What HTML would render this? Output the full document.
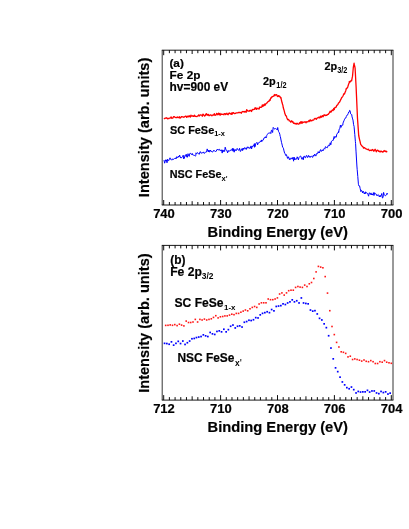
<!DOCTYPE html>
<html><head><meta charset="utf-8"><title>Fe 2p XPS</title>
<style>html,body{margin:0;padding:0;background:#fff}svg{display:block}</style></head>
<body>
<svg width="409" height="529" viewBox="0 0 409 529">
<rect width="409" height="529" fill="#fff"/>
<path d="M161.80 50.20H393.40M161.80 205.00H393.40" stroke="#000" stroke-width="0.9" fill="none"/>
<path d="M162.20 50.20V205.00" stroke="#000" stroke-width="0.8" fill="none"/>
<path d="M393.00 50.20V205.00" stroke="#000" stroke-width="0.8" fill="none"/>
<path d="M163.70 50.20v5.0M163.70 205.00v-5.0M169.39 50.20v3.0M169.39 205.00v-3.0M175.08 50.20v3.0M175.08 205.00v-3.0M180.77 50.20v3.0M180.77 205.00v-3.0M186.46 50.20v3.0M186.46 205.00v-3.0M192.15 50.20v3.8M192.15 205.00v-3.8M197.84 50.20v3.0M197.84 205.00v-3.0M203.53 50.20v3.0M203.53 205.00v-3.0M209.22 50.20v3.0M209.22 205.00v-3.0M214.91 50.20v3.0M214.91 205.00v-3.0M220.60 50.20v5.0M220.60 205.00v-5.0M226.29 50.20v3.0M226.29 205.00v-3.0M231.98 50.20v3.0M231.98 205.00v-3.0M237.67 50.20v3.0M237.67 205.00v-3.0M243.36 50.20v3.0M243.36 205.00v-3.0M249.05 50.20v3.8M249.05 205.00v-3.8M254.74 50.20v3.0M254.74 205.00v-3.0M260.43 50.20v3.0M260.43 205.00v-3.0M266.12 50.20v3.0M266.12 205.00v-3.0M271.81 50.20v3.0M271.81 205.00v-3.0M277.50 50.20v5.0M277.50 205.00v-5.0M283.19 50.20v3.0M283.19 205.00v-3.0M288.88 50.20v3.0M288.88 205.00v-3.0M294.57 50.20v3.0M294.57 205.00v-3.0M300.26 50.20v3.0M300.26 205.00v-3.0M305.95 50.20v3.8M305.95 205.00v-3.8M311.64 50.20v3.0M311.64 205.00v-3.0M317.33 50.20v3.0M317.33 205.00v-3.0M323.02 50.20v3.0M323.02 205.00v-3.0M328.71 50.20v3.0M328.71 205.00v-3.0M334.40 50.20v5.0M334.40 205.00v-5.0M340.09 50.20v3.0M340.09 205.00v-3.0M345.78 50.20v3.0M345.78 205.00v-3.0M351.47 50.20v3.0M351.47 205.00v-3.0M357.16 50.20v3.0M357.16 205.00v-3.0M362.85 50.20v3.8M362.85 205.00v-3.8M368.54 50.20v3.0M368.54 205.00v-3.0M374.23 50.20v3.0M374.23 205.00v-3.0M379.92 50.20v3.0M379.92 205.00v-3.0M385.61 50.20v3.0M385.61 205.00v-3.0M391.30 50.20v5.0M391.30 205.00v-5.0" stroke="#000" stroke-width="0.95" fill="none"/>
<path d="M161.80 245.40H393.40M161.80 400.10H393.40" stroke="#000" stroke-width="0.9" fill="none"/>
<path d="M162.20 245.40V400.10" stroke="#000" stroke-width="0.8" fill="none"/>
<path d="M393.00 245.40V400.10" stroke="#000" stroke-width="0.8" fill="none"/>
<path d="M163.70 245.40v5.0M163.70 400.10v-5.0M169.39 245.40v3.0M169.39 400.10v-3.0M175.08 245.40v3.0M175.08 400.10v-3.0M180.77 245.40v3.0M180.77 400.10v-3.0M186.46 245.40v3.0M186.46 400.10v-3.0M192.15 245.40v3.8M192.15 400.10v-3.8M197.84 245.40v3.0M197.84 400.10v-3.0M203.53 245.40v3.0M203.53 400.10v-3.0M209.22 245.40v3.0M209.22 400.10v-3.0M214.91 245.40v3.0M214.91 400.10v-3.0M220.60 245.40v5.0M220.60 400.10v-5.0M226.29 245.40v3.0M226.29 400.10v-3.0M231.98 245.40v3.0M231.98 400.10v-3.0M237.67 245.40v3.0M237.67 400.10v-3.0M243.36 245.40v3.0M243.36 400.10v-3.0M249.05 245.40v3.8M249.05 400.10v-3.8M254.74 245.40v3.0M254.74 400.10v-3.0M260.43 245.40v3.0M260.43 400.10v-3.0M266.12 245.40v3.0M266.12 400.10v-3.0M271.81 245.40v3.0M271.81 400.10v-3.0M277.50 245.40v5.0M277.50 400.10v-5.0M283.19 245.40v3.0M283.19 400.10v-3.0M288.88 245.40v3.0M288.88 400.10v-3.0M294.57 245.40v3.0M294.57 400.10v-3.0M300.26 245.40v3.0M300.26 400.10v-3.0M305.95 245.40v3.8M305.95 400.10v-3.8M311.64 245.40v3.0M311.64 400.10v-3.0M317.33 245.40v3.0M317.33 400.10v-3.0M323.02 245.40v3.0M323.02 400.10v-3.0M328.71 245.40v3.0M328.71 400.10v-3.0M334.40 245.40v5.0M334.40 400.10v-5.0M340.09 245.40v3.0M340.09 400.10v-3.0M345.78 245.40v3.0M345.78 400.10v-3.0M351.47 245.40v3.0M351.47 400.10v-3.0M357.16 245.40v3.0M357.16 400.10v-3.0M362.85 245.40v3.8M362.85 400.10v-3.8M368.54 245.40v3.0M368.54 400.10v-3.0M374.23 245.40v3.0M374.23 400.10v-3.0M379.92 245.40v3.0M379.92 400.10v-3.0M385.61 245.40v3.0M385.61 400.10v-3.0M391.30 245.40v5.0M391.30 400.10v-5.0" stroke="#000" stroke-width="0.95" fill="none"/>
<polyline points="163.9,118.2 164.5,118.7 165.1,118.2 165.7,118.1 166.3,117.7 166.9,118.1 167.5,118.8 168.1,118.3 168.7,118.7 169.3,118.1 169.9,118.2 170.5,118.0 171.1,116.9 171.7,118.3 172.3,118.1 172.9,118.0 173.5,116.7 174.1,116.6 174.7,117.1 175.3,117.3 175.9,117.7 176.5,117.4 177.1,117.7 177.7,117.0 178.3,117.5 178.9,117.5 179.5,116.8 180.0,118.2 180.1,117.5 180.7,117.8 181.3,116.7 181.9,116.6 182.5,116.8 183.1,116.9 183.7,117.3 184.3,117.0 184.9,116.5 185.5,116.2 186.1,116.4 186.7,117.4 187.3,116.1 187.9,116.7 188.5,116.8 189.1,115.6 189.7,116.5 190.3,117.1 190.9,115.1 191.5,116.1 192.1,116.2 192.7,115.7 193.3,116.4 193.9,116.1 194.5,115.2 195.1,116.5 195.7,116.3 196.3,116.5 196.9,116.7 197.5,116.0 198.1,115.8 198.7,114.9 199.3,116.0 199.9,115.2 200.0,115.3 200.5,114.8 201.1,115.0 201.7,115.2 202.3,116.2 202.9,114.2 203.5,114.5 204.1,115.5 204.7,116.1 205.3,115.6 205.9,114.1 206.5,113.7 207.1,115.3 207.7,114.6 208.3,114.4 208.9,115.6 209.5,115.6 210.1,115.0 210.7,115.0 211.3,115.1 211.9,115.7 212.5,115.1 213.1,115.0 213.7,115.0 214.3,113.7 214.9,115.3 215.5,115.1 216.1,114.8 216.7,113.3 217.3,114.0 217.9,114.8 218.5,113.2 219.1,114.2 219.7,114.8 220.0,113.4 220.3,115.1 220.9,114.5 221.5,114.0 222.1,114.3 222.7,114.4 223.3,114.1 223.9,114.7 224.5,113.6 225.1,113.7 225.7,114.5 226.3,113.9 226.9,113.3 227.5,114.4 228.1,114.7 228.7,113.5 229.3,112.9 229.9,113.6 230.0,113.6 230.5,113.5 231.1,114.4 231.7,112.9 232.3,114.1 232.9,112.6 233.5,112.7 234.1,113.5 234.7,113.7 235.3,113.4 235.9,113.1 236.5,112.9 237.1,112.8 237.7,112.9 238.3,112.4 238.9,112.6 239.5,112.7 239.8,112.3 240.1,112.7 240.7,112.5 241.3,113.2 241.9,112.1 242.5,111.6 243.1,111.5 243.7,111.7 244.3,112.1 244.9,111.3 245.5,111.6 246.1,112.3 246.7,109.7 247.3,110.4 247.9,111.1 248.5,111.1 249.1,110.9 249.6,110.5 249.7,111.0 250.3,110.7 250.9,110.1 251.5,111.5 252.1,110.2 252.7,109.5 253.3,109.6 253.9,109.4 254.5,109.3 255.1,107.7 255.7,108.7 256.3,109.4 256.9,108.0 257.5,108.5 258.1,108.9 258.7,108.7 259.3,108.8 259.4,107.1 259.9,107.5 260.5,107.2 261.1,107.3 261.7,107.2 262.3,104.9 262.9,106.4 263.5,104.8 264.1,105.5 264.7,104.0 265.2,104.6 265.3,105.0 265.9,103.7 266.5,103.3 267.1,102.9 267.7,102.0 268.3,101.3 268.9,101.4 269.1,101.0 269.5,99.9 270.1,100.4 270.7,97.9 271.3,98.0 271.9,96.7 272.1,96.7 272.5,96.8 273.1,96.3 273.7,96.2 274.3,94.8 274.9,94.5 275.0,95.7 275.5,94.8 276.1,94.9 276.7,94.7 277.3,96.3 277.9,96.1 278.0,96.5 278.5,95.6 279.1,96.4 279.7,96.2 280.3,97.6 280.9,98.2 280.9,97.3 281.5,100.5 282.1,102.8 282.7,104.9 282.8,104.9 283.3,107.8 283.9,109.7 284.5,111.9 284.8,113.4 285.1,114.0 285.7,115.7 286.3,115.9 286.9,117.9 287.5,119.3 287.7,119.7 288.1,119.3 288.7,119.5 289.3,120.9 289.9,120.9 290.5,121.4 290.7,122.2 291.1,121.6 291.7,120.8 292.3,122.1 292.9,121.6 293.5,123.3 294.1,123.3 294.6,123.1 294.7,123.4 295.3,123.9 295.9,123.4 296.5,124.1 297.1,123.2 297.7,123.9 298.3,124.1 298.9,124.1 299.5,122.8 300.1,123.6 300.5,122.0 300.7,122.4 301.3,121.8 301.9,123.4 302.5,121.9 303.1,122.5 303.7,122.2 304.3,122.2 304.9,121.7 305.5,122.0 306.1,122.8 306.7,121.7 307.3,121.8 307.9,121.9 308.5,121.1 309.1,120.4 309.7,120.6 309.8,121.5 310.3,119.8 310.9,120.2 311.5,120.9 312.1,120.6 312.7,120.0 313.3,120.2 313.9,119.7 314.5,118.7 315.1,118.3 315.7,118.6 316.3,119.3 316.9,118.3 317.5,117.9 318.1,117.8 318.7,117.2 319.3,117.7 319.6,117.1 319.9,117.8 320.5,116.1 321.1,117.3 321.7,116.5 322.3,115.6 322.9,116.8 323.5,116.0 324.1,114.7 324.7,115.2 325.3,115.6 325.9,115.0 326.5,115.4 326.9,115.2 327.1,115.0 327.7,114.3 328.3,114.3 328.9,113.4 329.5,112.8 330.1,111.1 330.7,112.1 331.3,111.8 331.9,110.5 332.5,109.9 333.1,110.6 333.7,108.3 334.2,108.9 334.3,109.7 334.9,107.4 335.5,107.4 336.1,107.2 336.7,105.5 337.3,105.1 337.9,104.5 338.5,103.0 339.1,102.6 339.1,102.7 339.7,101.9 340.3,100.5 340.9,99.4 341.5,98.0 342.1,97.2 342.7,96.6 343.3,95.3 343.9,93.8 344.0,93.7 344.5,94.0 345.1,92.3 345.7,90.9 346.3,88.5 346.9,88.5 347.5,87.3 347.7,87.3 348.1,85.7 348.7,83.9 349.3,82.4 349.3,81.4 349.9,82.2 350.5,81.4 351.1,80.5 351.6,80.9 351.7,80.5 352.3,77.1 352.5,76.4 352.9,72.0 353.3,67.5 353.5,66.5 354.1,63.2 354.2,64.3 354.7,66.2 355.1,68.1 355.3,71.8 355.9,83.2 356.1,86.8 356.5,95.9 357.1,109.5 357.5,118.4 357.7,121.4 358.3,129.6 358.7,135.5 358.9,136.5 359.5,139.3 360.1,141.7 360.6,144.1 360.7,144.4 361.3,145.1 361.9,146.0 362.5,146.5 363.1,147.0 363.6,148.2 363.7,147.9 364.3,147.6 364.9,148.0 365.5,148.6 366.1,148.8 366.7,149.1 367.3,149.3 367.9,149.6 368.5,149.7 368.5,149.1 369.1,150.2 369.7,150.6 370.3,150.4 370.9,150.1 371.5,150.6 372.1,149.9 372.7,149.5 373.3,150.7 373.3,150.2 373.9,151.2 374.5,150.1 375.1,149.3 375.7,150.2 376.3,151.8 376.9,150.7 377.5,150.1 378.1,150.5 378.7,151.3 379.3,151.4 379.9,151.2 380.0,152.0 380.5,151.5 381.1,151.1 381.7,151.5 382.3,152.1 382.9,151.7 383.5,151.8 384.1,150.5 384.7,151.1 385.3,151.6 385.9,151.0 386.5,151.8 387.1,151.6 387.3,151.7" fill="none" stroke="#ff0000" stroke-width="1.3" stroke-linejoin="round"/>
<polyline points="164.0,160.0 164.6,163.2 165.2,161.5 165.8,159.7 166.4,160.0 167.0,162.8 167.6,159.2 168.2,160.6 168.8,160.6 169.4,159.3 170.0,157.8 170.6,159.3 171.2,159.4 171.8,160.2 172.2,159.7 172.4,158.8 173.0,159.7 173.6,159.2 174.2,158.7 174.8,158.4 175.4,158.0 176.0,159.0 176.6,156.8 177.2,157.2 177.8,157.8 178.4,156.0 179.0,157.1 179.6,155.1 180.2,156.6 180.8,158.0 181.4,157.9 182.0,157.0 182.6,156.7 183.2,155.2 183.8,159.0 184.4,157.3 184.4,158.0 185.0,155.5 185.6,156.2 186.2,154.2 186.8,157.1 187.4,157.2 188.0,153.7 188.6,155.8 189.2,156.4 189.8,153.5 190.4,153.3 191.0,154.1 191.6,154.5 192.2,153.4 192.8,155.0 193.4,155.1 194.0,155.5 194.6,155.4 195.2,156.2 195.8,155.7 196.0,152.8 196.4,153.6 197.0,152.9 197.6,152.7 198.2,153.8 198.8,153.8 199.4,154.2 200.0,151.7 200.6,151.9 201.2,153.3 201.8,152.9 202.4,152.7 203.0,152.9 203.6,151.9 204.2,153.5 204.8,153.0 205.4,152.4 206.0,151.6 206.6,152.0 207.2,148.9 207.8,150.9 208.4,151.9 208.9,150.0 209.0,152.0 209.6,151.9 210.2,150.0 210.8,151.3 211.4,151.1 212.0,152.0 212.6,152.1 213.2,151.2 213.8,150.2 214.4,150.9 215.0,151.0 215.6,151.8 216.2,151.2 216.8,149.9 217.4,149.1 218.0,150.2 218.6,149.7 219.2,149.2 219.8,150.3 220.0,149.8 220.4,150.5 221.0,151.0 221.6,149.8 222.2,153.1 222.8,149.9 223.4,151.6 224.0,150.3 224.6,151.5 225.2,147.2 225.8,149.2 226.4,150.4 227.0,150.8 227.6,152.9 228.2,150.4 228.8,151.5 229.4,150.8 230.0,151.0 230.6,150.5 231.2,149.6 231.8,150.4 232.4,148.4 233.0,151.2 233.3,148.5 233.6,150.0 234.2,152.2 234.8,149.3 235.4,149.6 236.0,150.9 236.6,149.5 237.2,148.4 237.8,149.7 238.4,150.1 239.0,150.2 239.6,148.3 240.2,151.4 240.8,151.2 241.4,149.2 242.0,149.4 242.2,148.6 242.6,150.6 243.2,148.0 243.8,149.4 244.4,147.9 245.0,147.5 245.6,148.9 246.2,149.5 246.8,147.7 247.4,146.8 248.0,148.3 248.6,147.2 249.2,147.4 249.8,148.6 250.4,148.0 251.0,145.9 251.6,148.9 252.2,146.2 252.8,146.9 253.4,145.1 254.0,145.6 254.4,143.6 254.6,147.3 255.2,146.5 255.8,143.4 256.4,142.8 257.0,142.3 257.6,144.9 258.2,142.9 258.8,142.9 259.4,142.3 260.0,142.2 260.6,140.8 261.2,141.7 261.8,139.9 261.8,141.2 262.4,140.9 263.0,140.4 263.6,139.0 264.2,137.7 264.8,138.0 265.4,136.7 266.0,138.0 266.6,136.5 266.7,135.6 267.2,134.7 267.8,133.9 268.4,133.1 269.0,133.0 269.6,133.0 270.2,132.6 270.3,132.5 270.8,133.6 271.4,130.3 272.0,130.4 272.6,132.5 273.2,127.4 273.8,128.1 274.0,128.7 274.4,128.8 275.0,129.1 275.6,128.5 276.2,129.3 276.8,129.0 277.4,129.9 277.7,127.5 278.0,129.3 278.6,131.6 279.2,132.5 279.8,134.2 280.1,136.1 280.4,136.7 281.0,140.0 281.6,142.7 282.2,145.1 282.6,147.0 282.8,147.2 283.4,148.2 284.0,150.9 284.6,153.1 285.0,153.6 285.2,154.1 285.8,155.5 286.4,154.6 287.0,156.6 287.6,158.4 288.2,156.7 288.7,157.9 288.8,157.6 289.4,159.7 290.0,158.5 290.6,159.4 291.2,157.8 291.8,158.8 292.4,159.0 293.0,157.2 293.6,161.2 293.6,160.5 294.2,157.2 294.8,160.0 295.4,158.8 296.0,159.3 296.6,159.1 297.2,156.8 297.8,158.1 298.4,159.9 299.0,157.4 299.6,156.7 300.2,156.2 300.8,156.2 301.4,157.9 302.0,159.3 302.6,157.7 303.2,157.3 303.3,159.7 303.8,156.4 304.4,156.2 305.0,157.7 305.6,157.7 306.2,155.7 306.8,155.5 307.4,157.4 308.0,157.3 308.6,155.4 309.2,156.7 309.8,156.3 310.0,157.5 310.4,156.7 311.0,156.5 311.6,155.9 312.2,157.2 312.8,157.3 313.4,155.1 314.0,156.1 314.6,154.1 315.2,154.8 315.6,155.3 315.8,156.1 316.4,153.7 317.0,153.7 317.6,153.7 318.2,151.6 318.8,152.9 318.8,152.2 319.4,152.9 320.0,150.9 320.6,149.6 321.2,151.3 321.8,151.1 322.4,149.8 323.0,150.9 323.6,149.3 324.2,148.5 324.8,149.2 325.4,146.7 326.0,147.2 326.6,147.5 327.2,147.9 327.6,146.6 327.8,146.8 328.4,145.2 329.0,145.2 329.6,145.7 330.2,142.8 330.8,144.8 331.4,141.3 332.0,141.1 332.6,140.4 333.2,140.4 333.8,137.6 334.2,136.4 334.4,138.4 335.0,137.6 335.6,136.5 336.2,137.2 336.8,134.2 337.4,133.3 338.0,132.9 338.6,131.5 338.6,132.6 339.2,129.1 339.8,128.7 340.4,125.1 341.0,127.4 341.6,125.4 342.2,125.3 342.8,125.2 343.0,123.1 343.4,122.1 344.0,120.7 344.6,119.2 345.2,118.2 345.8,118.0 346.3,116.5 346.4,116.4 347.0,115.1 347.6,114.9 348.2,113.5 348.8,111.9 349.4,111.7 349.6,110.4 350.0,110.5 350.6,113.8 351.2,114.3 351.8,114.6 351.9,116.1 352.4,118.1 353.0,120.1 353.6,124.7 354.1,126.5 354.2,127.9 354.8,134.7 355.4,141.7 355.6,143.7 356.0,151.1 356.6,161.0 356.9,166.0 357.2,169.7 357.8,176.6 358.4,183.9 358.5,184.7 359.0,186.0 359.6,186.0 360.2,188.7 360.7,190.9 360.8,191.6 361.4,190.3 362.0,190.8 362.6,193.0 363.2,191.2 363.8,192.6 364.4,194.0 365.0,192.5 365.1,193.9 365.6,191.8 366.2,193.0 366.8,192.9 367.4,193.3 368.0,194.6 368.6,196.2 369.2,192.8 369.8,193.1 370.4,194.5 371.0,192.9 371.6,194.9 371.7,195.0 372.2,194.0 372.8,195.1 373.4,192.6 374.0,195.5 374.6,192.7 375.2,193.8 375.8,194.0 376.4,194.3 377.0,195.9 377.6,195.0 378.2,194.5 378.8,195.7 379.4,197.0 380.0,195.2 380.5,195.7 380.6,196.7 381.2,195.4 381.8,193.5 382.4,198.0 383.0,197.6 383.6,192.4 384.2,194.7 384.8,195.2 385.4,195.8 386.0,195.4 386.6,194.2 387.2,193.1 387.3,194.5" fill="none" stroke="#0000ff" stroke-width="1.0" stroke-linejoin="round"/>
<g fill="#ff1818"><rect x="390.5" y="362.5" width="1.6" height="1.6"/><rect x="388.2" y="362.0" width="1.6" height="1.6"/><rect x="385.9" y="361.4" width="1.6" height="1.6"/><rect x="383.7" y="359.8" width="1.6" height="1.6"/><rect x="381.4" y="361.4" width="1.6" height="1.6"/><rect x="379.1" y="360.9" width="1.6" height="1.6"/><rect x="376.8" y="362.7" width="1.6" height="1.6"/><rect x="374.5" y="362.7" width="1.6" height="1.6"/><rect x="372.3" y="360.9" width="1.6" height="1.6"/><rect x="370.0" y="359.8" width="1.6" height="1.6"/><rect x="367.7" y="360.9" width="1.6" height="1.6"/><rect x="365.4" y="360.5" width="1.6" height="1.6"/><rect x="363.2" y="359.2" width="1.6" height="1.6"/><rect x="360.9" y="360.3" width="1.6" height="1.6"/><rect x="358.6" y="359.4" width="1.6" height="1.6"/><rect x="356.3" y="358.7" width="1.6" height="1.6"/><rect x="354.0" y="358.1" width="1.6" height="1.6"/><rect x="351.8" y="358.7" width="1.6" height="1.6"/><rect x="349.5" y="355.4" width="1.6" height="1.6"/><rect x="347.2" y="356.1" width="1.6" height="1.6"/><rect x="344.9" y="352.6" width="1.6" height="1.6"/><rect x="342.6" y="351.5" width="1.6" height="1.6"/><rect x="340.4" y="351.0" width="1.6" height="1.6"/><rect x="338.1" y="346.2" width="1.6" height="1.6"/><rect x="335.8" y="341.6" width="1.6" height="1.6"/><rect x="333.5" y="333.8" width="1.6" height="1.6"/><rect x="331.2" y="325.7" width="1.6" height="1.6"/><rect x="329.0" y="309.9" width="1.6" height="1.6"/><rect x="326.7" y="292.3" width="1.6" height="1.6"/><rect x="324.4" y="275.8" width="1.6" height="1.6"/><rect x="322.1" y="267.0" width="1.6" height="1.6"/><rect x="319.9" y="266.3" width="1.6" height="1.6"/><rect x="317.6" y="265.6" width="1.6" height="1.6"/><rect x="315.3" y="271.1" width="1.6" height="1.6"/><rect x="313.0" y="277.7" width="1.6" height="1.6"/><rect x="310.7" y="281.7" width="1.6" height="1.6"/><rect x="308.5" y="283.0" width="1.6" height="1.6"/><rect x="306.2" y="285.7" width="1.6" height="1.6"/><rect x="303.9" y="284.3" width="1.6" height="1.6"/><rect x="301.6" y="286.6" width="1.6" height="1.6"/><rect x="299.3" y="286.3" width="1.6" height="1.6"/><rect x="297.1" y="285.7" width="1.6" height="1.6"/><rect x="294.8" y="286.6" width="1.6" height="1.6"/><rect x="292.5" y="289.4" width="1.6" height="1.6"/><rect x="290.2" y="289.4" width="1.6" height="1.6"/><rect x="287.9" y="289.9" width="1.6" height="1.6"/><rect x="285.7" y="292.1" width="1.6" height="1.6"/><rect x="283.4" y="294.3" width="1.6" height="1.6"/><rect x="281.1" y="292.1" width="1.6" height="1.6"/><rect x="278.8" y="293.2" width="1.6" height="1.6"/><rect x="276.6" y="297.1" width="1.6" height="1.6"/><rect x="274.3" y="298.2" width="1.6" height="1.6"/><rect x="272.0" y="298.9" width="1.6" height="1.6"/><rect x="269.7" y="298.9" width="1.6" height="1.6"/><rect x="267.4" y="298.2" width="1.6" height="1.6"/><rect x="265.2" y="302.0" width="1.6" height="1.6"/><rect x="262.9" y="302.0" width="1.6" height="1.6"/><rect x="260.6" y="302.0" width="1.6" height="1.6"/><rect x="258.3" y="303.2" width="1.6" height="1.6"/><rect x="256.0" y="306.6" width="1.6" height="1.6"/><rect x="253.8" y="305.7" width="1.6" height="1.6"/><rect x="251.5" y="306.6" width="1.6" height="1.6"/><rect x="249.2" y="308.0" width="1.6" height="1.6"/><rect x="246.9" y="310.0" width="1.6" height="1.6"/><rect x="244.6" y="309.2" width="1.6" height="1.6"/><rect x="242.4" y="310.3" width="1.6" height="1.6"/><rect x="240.1" y="311.4" width="1.6" height="1.6"/><rect x="237.8" y="312.6" width="1.6" height="1.6"/><rect x="235.5" y="312.6" width="1.6" height="1.6"/><rect x="233.2" y="313.9" width="1.6" height="1.6"/><rect x="231.0" y="313.4" width="1.6" height="1.6"/><rect x="228.7" y="314.3" width="1.6" height="1.6"/><rect x="226.4" y="315.1" width="1.6" height="1.6"/><rect x="224.1" y="315.1" width="1.6" height="1.6"/><rect x="221.9" y="315.7" width="1.6" height="1.6"/><rect x="219.6" y="316.0" width="1.6" height="1.6"/><rect x="217.3" y="317.1" width="1.6" height="1.6"/><rect x="215.0" y="314.9" width="1.6" height="1.6"/><rect x="212.7" y="316.6" width="1.6" height="1.6"/><rect x="210.5" y="318.0" width="1.6" height="1.6"/><rect x="208.2" y="318.6" width="1.6" height="1.6"/><rect x="205.9" y="319.2" width="1.6" height="1.6"/><rect x="203.6" y="318.3" width="1.6" height="1.6"/><rect x="201.3" y="319.2" width="1.6" height="1.6"/><rect x="199.1" y="318.6" width="1.6" height="1.6"/><rect x="196.8" y="321.2" width="1.6" height="1.6"/><rect x="194.5" y="318.6" width="1.6" height="1.6"/><rect x="192.2" y="321.2" width="1.6" height="1.6"/><rect x="189.9" y="321.7" width="1.6" height="1.6"/><rect x="187.7" y="321.7" width="1.6" height="1.6"/><rect x="185.4" y="320.3" width="1.6" height="1.6"/><rect x="183.1" y="325.1" width="1.6" height="1.6"/><rect x="180.8" y="324.3" width="1.6" height="1.6"/><rect x="178.6" y="323.4" width="1.6" height="1.6"/><rect x="176.3" y="324.8" width="1.6" height="1.6"/><rect x="174.0" y="323.8" width="1.6" height="1.6"/><rect x="171.7" y="324.5" width="1.6" height="1.6"/><rect x="169.4" y="324.1" width="1.6" height="1.6"/><rect x="167.2" y="324.5" width="1.6" height="1.6"/><rect x="164.9" y="324.6" width="1.6" height="1.6"/></g>
<g fill="#0000ff"><rect x="389.3" y="392.3" width="1.7" height="1.7"/><rect x="387.1" y="393.2" width="1.7" height="1.7"/><rect x="384.8" y="391.0" width="1.7" height="1.7"/><rect x="382.5" y="391.7" width="1.7" height="1.7"/><rect x="380.2" y="390.6" width="1.7" height="1.7"/><rect x="378.0" y="392.8" width="1.7" height="1.7"/><rect x="375.7" y="392.1" width="1.7" height="1.7"/><rect x="373.4" y="390.1" width="1.7" height="1.7"/><rect x="371.1" y="390.1" width="1.7" height="1.7"/><rect x="368.8" y="391.2" width="1.7" height="1.7"/><rect x="366.6" y="389.5" width="1.7" height="1.7"/><rect x="364.3" y="391.0" width="1.7" height="1.7"/><rect x="362.0" y="391.0" width="1.7" height="1.7"/><rect x="359.7" y="391.2" width="1.7" height="1.7"/><rect x="357.4" y="390.6" width="1.7" height="1.7"/><rect x="355.2" y="392.1" width="1.7" height="1.7"/><rect x="352.9" y="388.8" width="1.7" height="1.7"/><rect x="350.6" y="386.2" width="1.7" height="1.7"/><rect x="348.3" y="387.9" width="1.7" height="1.7"/><rect x="346.0" y="386.8" width="1.7" height="1.7"/><rect x="343.8" y="384.0" width="1.7" height="1.7"/><rect x="341.5" y="381.1" width="1.7" height="1.7"/><rect x="339.2" y="376.3" width="1.7" height="1.7"/><rect x="336.9" y="370.8" width="1.7" height="1.7"/><rect x="334.7" y="367.0" width="1.7" height="1.7"/><rect x="332.4" y="358.0" width="1.7" height="1.7"/><rect x="330.1" y="347.2" width="1.7" height="1.7"/><rect x="327.8" y="334.9" width="1.7" height="1.7"/><rect x="325.5" y="326.8" width="1.7" height="1.7"/><rect x="323.3" y="323.0" width="1.7" height="1.7"/><rect x="321.0" y="319.1" width="1.7" height="1.7"/><rect x="318.7" y="317.5" width="1.7" height="1.7"/><rect x="316.4" y="313.1" width="1.7" height="1.7"/><rect x="314.1" y="309.8" width="1.7" height="1.7"/><rect x="311.9" y="310.3" width="1.7" height="1.7"/><rect x="309.6" y="309.2" width="1.7" height="1.7"/><rect x="307.3" y="303.0" width="1.7" height="1.7"/><rect x="305.0" y="302.6" width="1.7" height="1.7"/><rect x="302.7" y="302.1" width="1.7" height="1.7"/><rect x="300.5" y="297.1" width="1.7" height="1.7"/><rect x="298.2" y="302.1" width="1.7" height="1.7"/><rect x="295.9" y="299.9" width="1.7" height="1.7"/><rect x="293.6" y="301.0" width="1.7" height="1.7"/><rect x="291.4" y="299.0" width="1.7" height="1.7"/><rect x="289.1" y="301.0" width="1.7" height="1.7"/><rect x="286.8" y="302.1" width="1.7" height="1.7"/><rect x="284.5" y="303.7" width="1.7" height="1.7"/><rect x="282.2" y="303.0" width="1.7" height="1.7"/><rect x="280.0" y="304.8" width="1.7" height="1.7"/><rect x="277.7" y="305.2" width="1.7" height="1.7"/><rect x="275.4" y="305.6" width="1.7" height="1.7"/><rect x="273.1" y="310.0" width="1.7" height="1.7"/><rect x="270.8" y="308.7" width="1.7" height="1.7"/><rect x="268.6" y="311.8" width="1.7" height="1.7"/><rect x="266.3" y="310.9" width="1.7" height="1.7"/><rect x="264.0" y="311.8" width="1.7" height="1.7"/><rect x="261.7" y="312.5" width="1.7" height="1.7"/><rect x="259.4" y="314.0" width="1.7" height="1.7"/><rect x="257.2" y="317.1" width="1.7" height="1.7"/><rect x="254.9" y="316.8" width="1.7" height="1.7"/><rect x="252.6" y="318.9" width="1.7" height="1.7"/><rect x="250.3" y="319.7" width="1.7" height="1.7"/><rect x="248.1" y="319.4" width="1.7" height="1.7"/><rect x="245.8" y="320.7" width="1.7" height="1.7"/><rect x="243.5" y="321.4" width="1.7" height="1.7"/><rect x="241.2" y="326.2" width="1.7" height="1.7"/><rect x="238.9" y="325.0" width="1.7" height="1.7"/><rect x="236.7" y="325.4" width="1.7" height="1.7"/><rect x="234.4" y="327.1" width="1.7" height="1.7"/><rect x="232.1" y="324.2" width="1.7" height="1.7"/><rect x="229.8" y="325.4" width="1.7" height="1.7"/><rect x="227.5" y="328.8" width="1.7" height="1.7"/><rect x="225.3" y="331.0" width="1.7" height="1.7"/><rect x="223.0" y="328.4" width="1.7" height="1.7"/><rect x="220.7" y="331.0" width="1.7" height="1.7"/><rect x="218.4" y="330.0" width="1.7" height="1.7"/><rect x="216.1" y="330.6" width="1.7" height="1.7"/><rect x="213.9" y="333.6" width="1.7" height="1.7"/><rect x="211.6" y="333.0" width="1.7" height="1.7"/><rect x="209.3" y="331.6" width="1.7" height="1.7"/><rect x="207.0" y="335.7" width="1.7" height="1.7"/><rect x="204.8" y="335.0" width="1.7" height="1.7"/><rect x="202.5" y="334.0" width="1.7" height="1.7"/><rect x="200.2" y="335.7" width="1.7" height="1.7"/><rect x="197.9" y="336.2" width="1.7" height="1.7"/><rect x="195.6" y="336.7" width="1.7" height="1.7"/><rect x="193.4" y="337.6" width="1.7" height="1.7"/><rect x="191.1" y="337.9" width="1.7" height="1.7"/><rect x="188.8" y="340.2" width="1.7" height="1.7"/><rect x="186.5" y="341.9" width="1.7" height="1.7"/><rect x="184.2" y="343.6" width="1.7" height="1.7"/><rect x="182.0" y="340.2" width="1.7" height="1.7"/><rect x="179.7" y="342.7" width="1.7" height="1.7"/><rect x="177.4" y="340.5" width="1.7" height="1.7"/><rect x="175.1" y="342.5" width="1.7" height="1.7"/><rect x="172.8" y="344.3" width="1.7" height="1.7"/><rect x="170.6" y="341.0" width="1.7" height="1.7"/><rect x="168.3" y="343.4" width="1.7" height="1.7"/><rect x="166.0" y="342.7" width="1.7" height="1.7"/><rect x="163.7" y="342.5" width="1.7" height="1.7"/></g>
<g style="opacity:0.999" font-family="'Liberation Sans', sans-serif" font-weight="bold" fill="#000" stroke="#000" stroke-width="0.2">
<text x="164.0" y="218.2" font-size="13" text-anchor="middle">740</text>
<text x="220.9" y="218.2" font-size="13" text-anchor="middle">730</text>
<text x="277.8" y="218.2" font-size="13" text-anchor="middle">720</text>
<text x="334.7" y="218.2" font-size="13" text-anchor="middle">710</text>
<text x="391.6" y="218.2" font-size="13" text-anchor="middle">700</text>
<text x="164.0" y="413.2" font-size="13" text-anchor="middle">712</text>
<text x="220.9" y="413.2" font-size="13" text-anchor="middle">710</text>
<text x="277.8" y="413.2" font-size="13" text-anchor="middle">708</text>
<text x="334.7" y="413.2" font-size="13" text-anchor="middle">706</text>
<text x="391.6" y="413.2" font-size="13" text-anchor="middle">704</text>
<text x="277.8" y="236.9" font-size="14.7" text-anchor="middle">Binding Energy (eV)</text>
<text x="277.8" y="431.9" font-size="14.7" text-anchor="middle">Binding Energy (eV)</text>
<text transform="translate(149.4 127.4) rotate(-90)" font-size="14.6" text-anchor="middle">Intensity (arb. units)</text>
<text transform="translate(149.2 323.1) rotate(-90)" font-size="14.6" text-anchor="middle">Intensity (arb. units)</text>
<text x="169.4" y="67.3" font-size="11.8">(a)</text>
<text x="169.6" y="78.9" font-size="11.8">Fe 2p</text>
<text x="169.6" y="90.8" font-size="11.9">hv=900 eV</text>
<text x="263.0" y="84.9" font-size="10.9">2p<tspan font-size="8.4" dx="0.6" dy="2.9" stroke-width="0" textLength="10.2" lengthAdjust="spacingAndGlyphs">1/2</tspan></text>
<text x="324.4" y="69.7" font-size="10.9">2p<tspan font-size="8.4" dx="0.1" dy="2.8" stroke-width="0" textLength="10.2" lengthAdjust="spacingAndGlyphs">3/2</tspan></text>
<text x="170.0" y="133.7" font-size="10.9">SC FeSe<tspan font-size="7.4" dy="2.7" stroke-width="0">1-x</tspan></text>
<text x="169.8" y="177.7" font-size="10.8">NSC FeSe<tspan font-size="7.6" dy="3.0" stroke-width="0">x</tspan><tspan font-size="9.5" font-weight="normal" dy="1.5" dx="0.2" stroke-width="0">'</tspan></text>
<text x="170.2" y="263.5" font-size="11.9">(b)</text>
<text x="170.2" y="276.2" font-size="12.15">Fe 2p<tspan font-size="8.4" dx="-0.2" dy="3.0" stroke-width="0">3/2</tspan></text>
<text x="174.5" y="306.5" font-size="12.1">SC FeSe<tspan font-size="7.9" dx="0.5" dy="3.5" stroke-width="0">1-x</tspan></text>
<text x="177.4" y="362.2" font-size="11.95">NSC FeSe<tspan font-size="8.4" dx="0.5" dy="3.3" stroke-width="0">x</tspan><tspan font-size="11" font-weight="normal" dy="1.9" dx="0.2" stroke-width="0">'</tspan></text>
</g>
</svg>
</body></html>
